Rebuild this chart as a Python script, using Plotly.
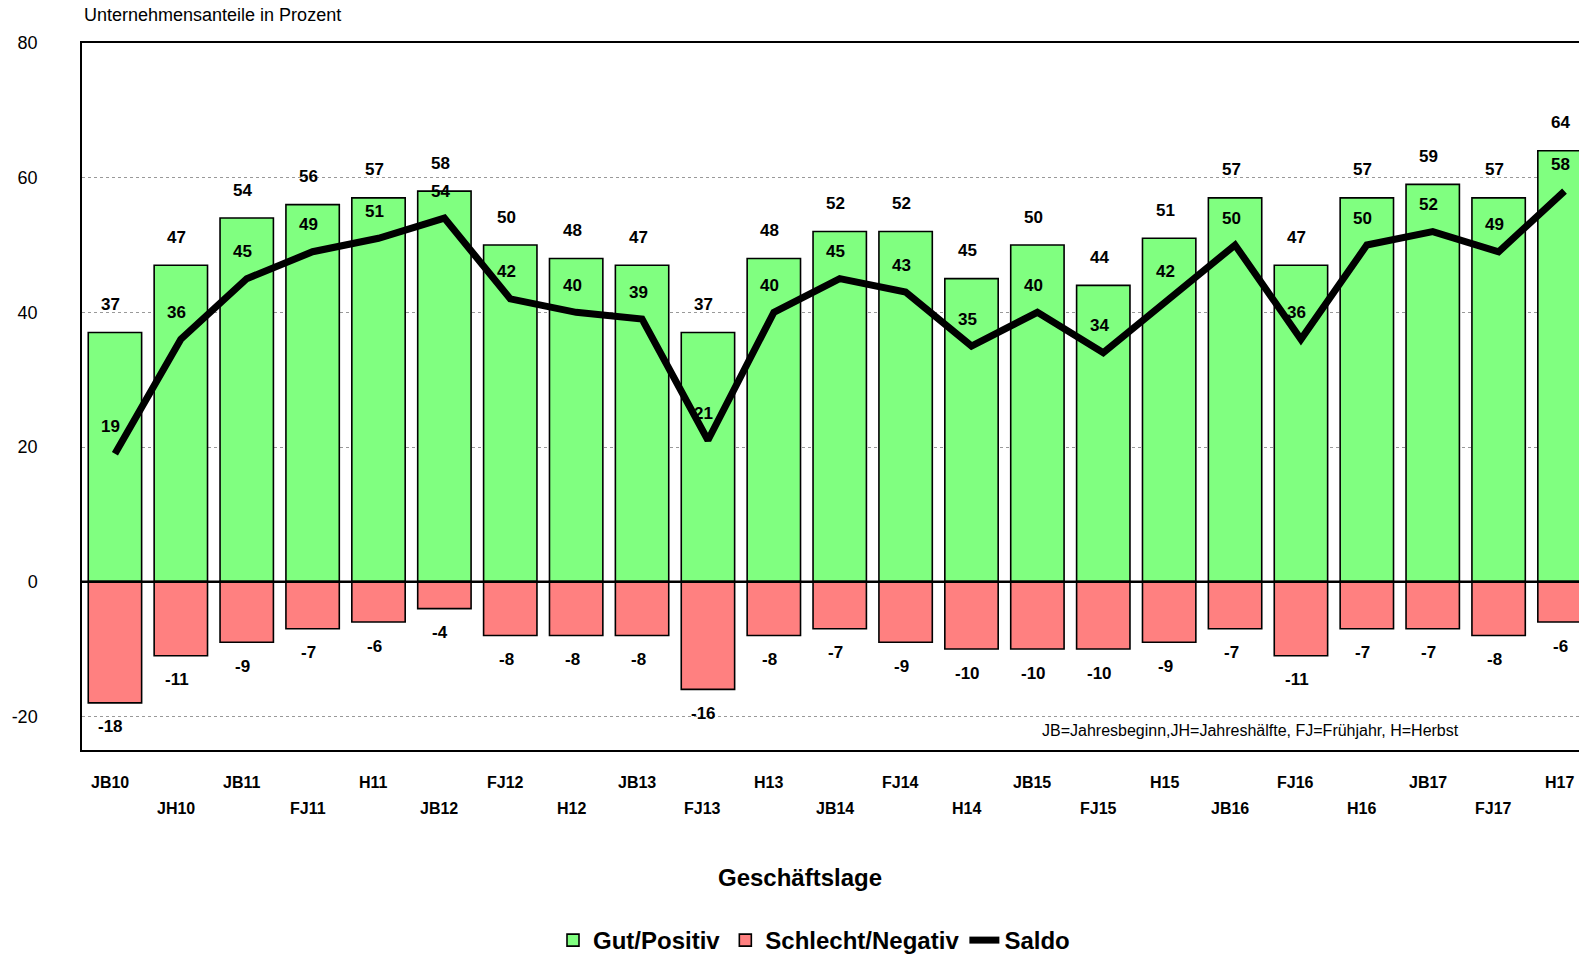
import plotly.graph_objects as go

categories = ["JB10", "JH10", "JB11", "FJ11", "H11", "JB12", "FJ12", "H12", "JB13", "FJ13",
              "H13", "JB14", "FJ14", "H14", "JB15", "FJ15", "H15", "JB16", "FJ16", "H16",
              "JB17", "FJ17", "H17"]
positive = [37, 47, 54, 56, 57, 58, 50, 48, 47, 37, 48, 52, 52, 45, 50, 44, 51, 57, 47, 57, 59, 57, 64]
negative = [-18, -11, -9, -7, -6, -4, -8, -8, -8, -16, -8, -7, -9, -10, -10, -10, -9, -7, -11, -7, -7, -8, -6]
saldo = [19, 36, 45, 49, 51, 54, 42, 40, 39, 21, 40, 45, 43, 35, 40, 34, 42, 50, 36, 50, 52, 49, 58]
y_ticks = [-20, 0, 20, 40, 60, 80]
y_ticktext = ["-20", "0", "20", "40", "60", "80"]

FONT = "Liberation Sans, Arial, sans-serif"
idx = list(range(len(categories)))

PLOT_H = 707.0   # plot area height in px
PLOT_W = 1497.0  # plot area width in px

fig = go.Figure()
fig.add_trace(go.Bar(x=idx, y=positive, name="Gut/Positiv", width=0.81,
                     marker=dict(color="#80FF80", line=dict(color="black", width=1.6))))
fig.add_trace(go.Bar(x=idx, y=negative, name="Schlecht/Negativ", width=0.81,
                     marker=dict(color="#FF8080", line=dict(color="black", width=1.6))))
fig.add_trace(go.Scatter(x=idx, y=saldo, name="Saldo", mode="lines",
                         line=dict(color="black", width=7)))

ann = []
lab_font = dict(family=FONT, size=17, color="black")
for i in idx:
    ann.append(dict(x=i, y=positive[i], xref="x", yref="y", text=f"<b>{positive[i]}</b>",
                    showarrow=False, yshift=28, xshift=-4, font=lab_font))
    ann.append(dict(x=i, y=negative[i], xref="x", yref="y", text=f"<b>{negative[i]}</b>",
                    showarrow=False, yshift=-24, xshift=-4, font=lab_font))
    ann.append(dict(x=i, y=saldo[i], xref="x", yref="y", text=f"<b>{saldo[i]}</b>",
                    showarrow=False, yshift=27, xshift=-4, font=lab_font))
    row_y = -32 / PLOT_H if i % 2 == 0 else -58 / PLOT_H
    ann.append(dict(x=i, y=row_y, xref="x", yref="paper", text=f"<b>{categories[i]}</b>",
                    showarrow=False, xshift=-5, yanchor="middle",
                    font=dict(family=FONT, size=16, color="black")))

ann.append(dict(x=0, y=1 + 28 / PLOT_H, xref="paper", yref="paper", xanchor="left", yanchor="middle",
                text="Unternehmensanteile in Prozent", showarrow=False,
                font=dict(family=FONT, size=18, color="black")))
ann.append(dict(x=(1040 - 82) / PLOT_W, y=20 / PLOT_H, xref="paper", yref="paper", xanchor="left",
                yanchor="middle", text="JB=Jahresbeginn,JH=Jahreshälfte, FJ=Frühjahr, H=Herbst",
                showarrow=False, font=dict(family=FONT, size=16, color="black")))
ann.append(dict(x=(800 - 82) / PLOT_W, y=-127 / PLOT_H, xref="paper", yref="paper", xanchor="center",
                yanchor="middle", text="<b>Geschäftslage</b>", showarrow=False,
                font=dict(family=FONT, size=24, color="black")))

fig.update_layout(
    width=1579, height=957,
    margin=dict(l=82, r=0, t=43, b=207, autoexpand=False),
    paper_bgcolor="white", plot_bgcolor="white",
    barmode="overlay",
    font=dict(family=FONT, color="black"),
    annotations=ann,
    shapes=[dict(type="line", xref="paper", yref="y", x0=0, x1=1, y0=0, y1=0,
                 line=dict(color="black", width=2.5), layer="above")],
    legend=dict(orientation="h", x=(814 - 82) / PLOT_W, y=-168 / PLOT_H, xanchor="center",
                yanchor="top", font=dict(family=FONT, size=24, color="black", weight="bold"),
                traceorder="normal", itemwidth=30),
    showlegend=True,
)
fig.update_xaxes(range=[-0.5, 22.22], showticklabels=False, showgrid=False, zeroline=False,
                 showline=True, linecolor="black", linewidth=1.5, mirror=True, ticks="")
fig.update_yaxes(range=[-25, 80], tickvals=y_ticks, ticktext=y_ticktext, showgrid=True,
                 gridcolor="#999999", griddash="dot", gridwidth=1, zeroline=False, showline=True,
                 linecolor="black", linewidth=1.5, ticks="", ticklabelstandoff=39,
                 tickfont=dict(family=FONT, size=18, color="black"))

fig.write_html("out.html", config={"displayModeBar": False}, post_script=(
    "document.body.style.margin='0';document.body.style.padding='0';"
    "document.documentElement.style.overflow='hidden';document.body.style.overflow='hidden';"))
